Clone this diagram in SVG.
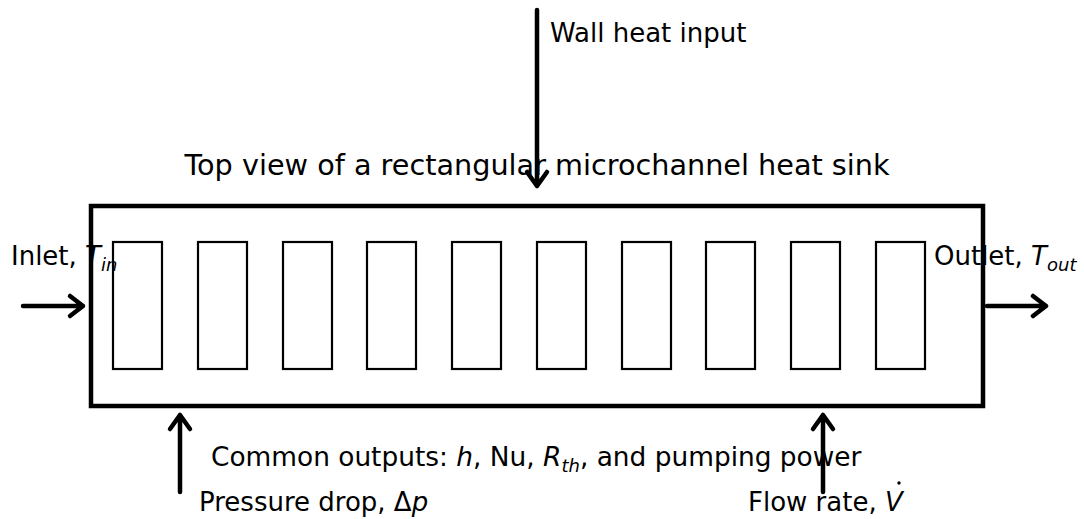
<svg xmlns="http://www.w3.org/2000/svg" width="1084" height="519" viewBox="0 0 1084 519">
<style>
text{font-family:"DejaVu Sans",sans-serif;fill:#000;font-size:26px}
.i{font-style:italic}
.s{font-style:italic;font-size:18px}
.ch{fill:none;stroke:#000;stroke-width:2.2}
.ar{fill:none;stroke:#000;stroke-width:4.5;stroke-linecap:round;stroke-linejoin:round}
</style>
<rect width="1084" height="519" fill="#fff"/>
<g id="labels">
<text x="550" y="42">Wall heat input</text>
<text x="537" y="175" text-anchor="middle" style="font-size:28.7px">Top view of a rectangular microchannel heat sink</text>
<text x="11" y="265">Inlet, <tspan class="i">T</tspan><tspan class="s" dy="6">in</tspan></text>
<text x="934" y="265">Outlet, <tspan class="i">T</tspan><tspan class="s" dy="6">out</tspan></text>
<text x="211" y="466" style="font-size:26.4px">Common outputs: <tspan class="i">h</tspan>, Nu, <tspan class="i">R</tspan><tspan class="s" dy="6">th</tspan><tspan dy="-6">, and pumping power</tspan></text>
<text x="199" y="511">Pressure drop, Δ<tspan class="i">p</tspan></text>
<text x="748" y="511">Flow rate, <tspan class="i">V</tspan></text>
<circle cx="899" cy="483" r="1.7" fill="#000"/>
</g>
<g id="heatsink">
<rect x="91" y="206" width="892" height="200" fill="none" stroke="#000" stroke-width="4.5"/>
</g>
<g id="channels">
<rect class="ch" x="113" y="242" width="49" height="127"/>
<rect class="ch" x="198" y="242" width="49" height="127"/>
<rect class="ch" x="283" y="242" width="49" height="127"/>
<rect class="ch" x="367" y="242" width="49" height="127"/>
<rect class="ch" x="452" y="242" width="49" height="127"/>
<rect class="ch" x="537" y="242" width="49" height="127"/>
<rect class="ch" x="622" y="242" width="49" height="127"/>
<rect class="ch" x="706" y="242" width="49" height="127"/>
<rect class="ch" x="791" y="242" width="49" height="127"/>
<rect class="ch" x="876" y="242" width="49" height="127"/>
</g>
<g id="connectors">
<path class="ar" d="M23 306H83M70 296L83 306L70 316"/>
<path class="ar" d="M987 306H1046M1033 296L1046 306L1033 316"/>
<path class="ar" d="M537 10V186M527 172L537 186L547 172"/>
<path class="ar" d="M180 492V415M170 429L180 415L190 429"/>
<path class="ar" d="M823 492V415M813 429L823 415L833 429"/>
</g>
</svg>
